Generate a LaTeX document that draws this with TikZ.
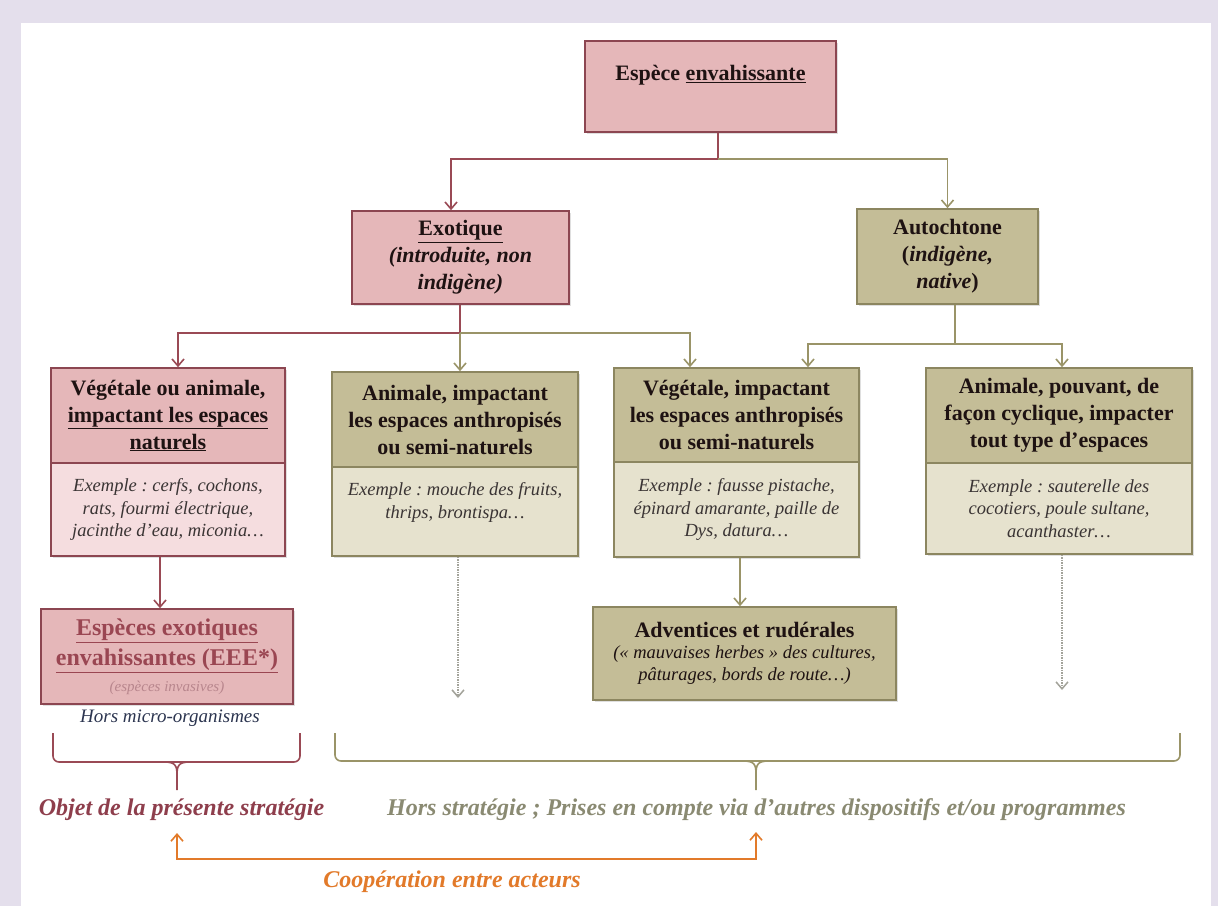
\documentclass[tikz,border=0pt]{standalone}
\usepackage{fontspec}
\setmainfont{Liberation Serif}
\usetikzlibrary{arrows.meta,shadows,calc}

\definecolor{lav}{HTML}{E4DFEC}
\definecolor{pinkH}{HTML}{E5B7B9}
\definecolor{pinkB}{HTML}{F5DDDF}
\definecolor{pinkD}{HTML}{8C4651}
\definecolor{oliveH}{HTML}{C4BD97}
\definecolor{oliveB}{HTML}{E6E2CE}
\definecolor{oliveD}{HTML}{8C8660}
\definecolor{redc}{HTML}{9A4A55}
\definecolor{olc}{HTML}{9A9468}
\definecolor{txt}{HTML}{1E1212}
\definecolor{bodytxt}{HTML}{3A3434}
\definecolor{objc}{HTML}{8E3E4C}
\definecolor{horsc}{HTML}{8A8A72}
\definecolor{orc}{HTML}{E27A2A}
\definecolor{eeec}{HTML}{9A4652}
\definecolor{eeel}{HTML}{B8868D}
\definecolor{navy}{HTML}{2C3550}
\definecolor{dotc}{HTML}{A3A39A}

\begin{document}
\frenchspacing
\begin{tikzpicture}[x=1pt,y=-1pt,
  box/.style={rectangle, draw, line width=1.6pt, inner sep=0pt, align=center,
    drop shadow={shadow xshift=2pt,shadow yshift=-2pt,opacity=.25}},
  pinkhead/.style={box, fill=pinkH, draw=pinkD},
  pinkbody/.style={box, fill=pinkB, draw=pinkD},
  olivehead/.style={box, fill=oliveH, draw=oliveD},
  olivebody/.style={box, fill=oliveB, draw=oliveD},
  hfont/.style={font=\fontsize{22}{27}\selectfont\bfseries, text=txt},
  bfont/.style={font=\fontsize{18.5}{22.5}\selectfont\itshape, text=bodytxt},
  tip/.style={-{Straight Barb[length=7pt,width=12pt,line width=1.6pt]}},
  redline/.style={draw=redc, line width=1.8pt},
  oline/.style={draw=olc, line width=1.8pt},
  rarr/.style={redline, tip},
  oarr/.style={oline, tip},
  dotarr/.style={draw=dotc, line width=1.5pt, densely dotted, -{Straight Barb[length=7pt,width=12pt,line width=1.5pt]}},
  bigit/.style={font=\fontsize{24}{28}\selectfont\bfseries\itshape}
]
\useasboundingbox (0,0) rectangle (1218,906);
\fill[lav] (0,0) rectangle (1218,906);
\fill[white] (21,23) rectangle (1211,906);

% level 0
\node[pinkhead, minimum width=251pt, minimum height=91pt, hfont] (top) at (710.5,86.5)
  {Espèce \underline{envahissante}\\ \mbox{}};

% level 1
\node[pinkhead, minimum width=217pt, minimum height=93pt, hfont] (exo) at (460.5,257.5)
  {\underline{Exotique}\\ \textit{(introduite, non}\\ \textit{indigène)}};
\node[olivehead, minimum width=181pt, minimum height=95pt, hfont] (auto) at (947.5,256.5)
  {Autochtone\\ (\textit{indigène,}\\ \textit{native})};

% level 2
\node[pinkhead, minimum width=234pt, minimum height=95pt, hfont] (ahead) at (168,415.5)
  {Végétale ou animale,\\ \underline{impactant les espaces}\\ \underline{naturels}};
\node[pinkbody, minimum width=234pt, minimum height=93pt, bfont] (abody) at (168,509.5)
  {Exemple : cerfs, cochons,\\ rats, fourmi électrique,\\ jacinthe d’eau, miconia…};

\node[olivehead, minimum width=246pt, minimum height=95pt, hfont] (bhead) at (455,419.5)
  {Animale, impactant\\ les espaces anthropisés\\ ou semi-naturels};
\node[olivebody, minimum width=246pt, minimum height=89pt, bfont] (bbody) at (455,511.5)
  {Exemple : mouche des fruits,\\ thrips, brontispa…\\ \mbox{}};

\node[olivehead, minimum width=245pt, minimum height=94pt, hfont] (chead) at (736.5,415)
  {Végétale, impactant\\ les espaces anthropisés\\ ou semi-naturels};
\node[olivebody, minimum width=245pt, minimum height=95pt, bfont] (cbody) at (736.5,509.5)
  {Exemple : fausse pistache,\\ épinard amarante, paille de\\ Dys, datura…};

\node[olivehead, minimum width=266pt, minimum height=95pt, hfont] (dhead) at (1059,415.5)
  {Animale, pouvant, de\\ façon cyclique, impacter\\ tout type d’espaces};
\node[olivebody, minimum width=266pt, minimum height=91pt, bfont] (dbody) at (1059,508.5)
  {Exemple : sauterelle des\\ cocotiers, poule sultane,\\ acanthaster…};

% level 3
\node[pinkhead, minimum width=252pt, minimum height=95pt, font=\fontsize{24}{30}\selectfont\bfseries, text=eeec] (eee) at (167,656.5)
  {\underline{Espèces exotiques}\\ \underline{envahissantes (EEE*)}\\[-4pt] {\fontsize{15}{18}\selectfont\mdseries\itshape\color{eeel}(espèces invasives)}};
\node[font=\fontsize{19}{22}\selectfont\itshape, text=navy] (micro) at (170,718) {Hors micro-organismes};

\node[olivehead, minimum width=303pt, minimum height=93pt, bfont, text=txt] (adv) at (744.5,653.5)
  {{\fontsize{22}{25}\selectfont\upshape\bfseries Adventices et rudérales}\\[-2pt] («~mauvaises herbes~» des cultures,\\ pâturages, bords de route…)};

% connectors
\coordinate (j1) at (718,159);
\draw[redline] (top.south -| j1) -- (j1);
\draw[rarr] (j1) -| ($(exo.north)+(-9.5,0)$);
\draw[oarr] (j1) -| (auto.north);

\coordinate (j2) at (460,333);
\draw[redline] (exo.south -| j2) -- (j2);
\draw[rarr] (j2) -| ($(ahead.north)+(10,0)$);
\draw[oarr] (j2) -- (j2 |- bhead.north);
\draw[oarr] (j2) -| ($(chead.north)+(-46.5,0)$);

\coordinate (j3) at ($(auto.south)+(7.5,39)$);
\draw[oline] (auto.south -| j3) -- (j3);
\draw[oarr] (j3) -| ($(chead.north)+(71.5,0)$);
\draw[oarr] (j3) -| ($(dhead.north)+(3,0)$);

\draw[rarr] ($(abody.south)+(-8,0)$) -- ($(eee.north)+(-7,0)$);
\draw[oarr] ($(cbody.south)+(3.5,0)$) -- ($(adv.north)+(-4.5,0)$);

\coordinate (bend) at (458,698);
\draw[dotarr] (bbody.south -| bend) -- (bend);
\coordinate (dend) at (1062,690);
\draw[dotarr] (dbody.south -| dend) -- (dend);

% brackets
\draw[redline, line width=1.6pt, rounded corners=6pt] (53,733) -- (53,762) -- (300,762) -- (300,733);
\draw[redline, line width=1.6pt] (164,762) .. controls (175,762) and (177,765) .. (177,775) -- (177,790);
\draw[redline, line width=1.6pt] (190,762) .. controls (179,762) and (177,765) .. (177,775);

\draw[oline, line width=1.6pt, rounded corners=6pt] (335,733) -- (335,761) -- (1180,761) -- (1180,733);
\draw[oline, line width=1.6pt] (743,761) .. controls (754,761) and (756,764) .. (756,774) -- (756,790);
\draw[oline, line width=1.6pt] (769,761) .. controls (758,761) and (756,764) .. (756,774);

% bottom labels
\node[bigit, text=objc] (obj) at (181.5,810) {Objet de la présente stratégie};
\node[bigit, text=horsc] (hors) at (756.5,810) {Hors stratégie~; Prises en compte via d’autres dispositifs et/ou programmes};
\node[bigit, text=orc] (coop) at (452,882) {Coopération entre acteurs};

\coordinate (o1) at (177,833);
\coordinate (o2) at (756,832);
\draw[draw=orc, line width=1.8pt, {Straight Barb[length=7pt,width=12pt,line width=1.6pt]}-{Straight Barb[length=7pt,width=12pt,line width=1.6pt]}] (o1) -- ++(0,26) -| (o2);
\end{tikzpicture}
\end{document}
